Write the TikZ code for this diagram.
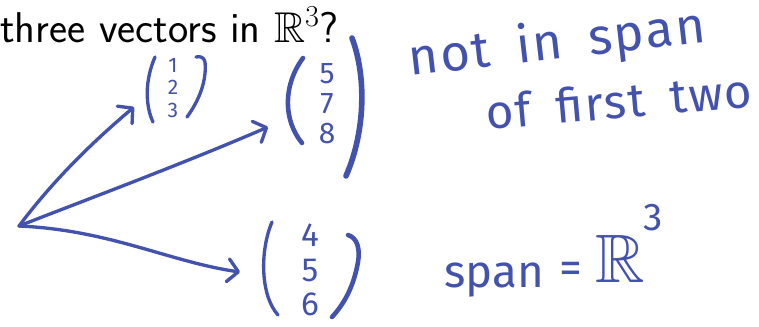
\documentclass[tikz,border=0pt]{standalone}
\usepackage{amssymb}
\usepackage{fontspec}
\newfontfamily\handfont{Fira Sans}
\newfontfamily\handwide{Fira Sans}[LetterSpace=4, WordSpace=1.7]
\usetikzlibrary{arrows.meta}
\definecolor{inkblue}{RGB}{67,82,172}

\begin{document}
\begin{tikzpicture}[
    x=0.02cm, y=-0.02cm,
    every node/.style={inner sep=0pt},
    >={Straight Barb[length=6pt,width=13pt,round]},
    ink/.style={inkblue, line width=1.9pt, line cap=round, line join=round},
    hand/.style 2 args={inkblue, font=\handfont\fontsize{#1}{#2}\selectfont},
    note/.style={inkblue, font=\handwide\fontsize{#1}{#1}\selectfont, anchor=base west},
]
\useasboundingbox (0,0) rectangle (759,326);

% === Question ===
\node[anchor=base west, font=\sffamily\fontsize{24.5}{28}\selectfont] (title) at (0,42) {three vectors in $\mathbb{R}^3$?};

% === First vector ===
\node[hand={12}{13}, align=center] (v1) at (173,88) {1\\2\\3};
\draw[ink] (155,57) .. controls (145,80) and (145,105) .. (153,122);
\draw[ink] (196,57) .. controls (200,56) and (204,57) .. (205,62)
    .. controls (207,82) and (198,102) .. (187,117);

% === Second vector ===
\node[hand={17}{17}, align=center] (v2) at (327,104) {5\\7\\8};
\draw[ink, line width=2.6pt] (303,58) .. controls (283,85) and (283,120) .. (302,143);
\draw[ink, line width=3.2pt] (352,38) .. controls (366,75) and (366,130) .. (346,176);

% === Third vector ===
\node[hand={19}{19.5}, align=center] (v3) at (310,270) {4\\5\\6};
\draw[ink] (272,222) .. controls (260,250) and (260,295) .. (278,315);
\draw[ink, line width=2.6pt] (348,235) .. controls (358,238) and (360,250) .. (358,262)
    .. controls (354,285) and (345,303) .. (332,317);

% === Arrows from the origin ===
\coordinate (o) at (19,226);
\coordinate (t1) at (134,107);
\coordinate (t2) at (268,127);
\coordinate (t3) at (240,272);
\draw[ink, ->] (o) .. controls (55,178) and (95,140) .. (t1);
\draw[ink, ->] (o) .. controls (80,202) and (180,165) .. (t2);
\draw[ink, ->] (o) .. controls (110,230) and (170,262) .. (t3);

% === Notes ===
\node[note=29, rotate=6.5] (note1) at (410,76) {not in span};
\node[note=27, rotate=5] (note2) at (487,130) {of first two};
\node[hand={26}{26}, anchor=base west] (spn) at (444,287) {span};
\node[hand={26}{26}, anchor=base] (eq) at (571,283) {=};
\node[inkblue, font=\fontsize{39}{39}\selectfont, anchor=base west] (rr) at (595,282) {$\mathbb{R}$};
\node[hand={22}{22}, anchor=base west] (cube) at (643,230) {3};

\end{tikzpicture}
\end{document}
